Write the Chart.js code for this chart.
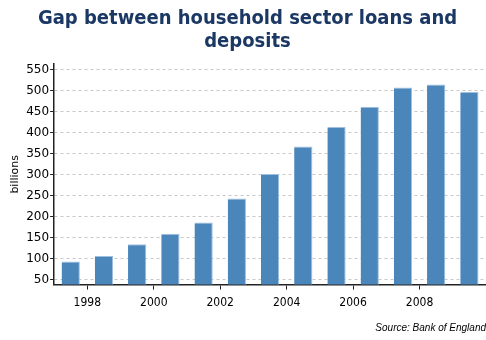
<!DOCTYPE html>
<html>
<head>
<meta charset="utf-8">
<script src="https://cdn.jsdelivr.net/npm/chart.js@4.4.1/dist/chart.umd.min.js"></script>
<style>
  html, body { margin: 0; padding: 0; background: #fff; }
  #wrap { width: 486px; height: 340px; }
</style>
</head>
<body>
<div id="wrap"><canvas id="chart"></canvas></div>
<script>
// --- Datos ---
const years = [1997, 1998, 1999, 2000, 2001, 2002, 2003, 2004, 2005, 2006, 2007, 2008, 2009];
const gap = [93, 106, 134, 159, 186, 243, 302, 367, 414, 462, 508, 515, 497];
const yTicks = [50, 100, 150, 200, 250, 300, 350, 400, 450, 500, 550];
const xTicks = [1998, 2000, 2002, 2004, 2006, 2008];

const titleLines = ["Gap between household sector loans and", "deposits"];
const sourceText = "Source: Bank of England";

// cada barra ocupa su año entero, la etiqueta cae en el borde
const points = years.map((y, i) => ({ x: y + 0.5, y: gap[i] }));

new Chart(document.getElementById("chart"), {
  type: "bar",
  data: {
    datasets: [{
      data: points,
      backgroundColor: "#4b86bb",
      borderColor: "#9fbfdf",
      borderWidth: { top: 1, right: 1, left: 0, bottom: 0 },
      borderSkipped: false,
      categoryPercentage: 1,
      barPercentage: 0.55,
    }],
  },
  options: {
    responsive: true,
    maintainAspectRatio: false,
    animation: false,
    layout: { padding: { left: 9, right: 0, top: 0, bottom: 0 } },
    plugins: {
      legend: { display: false },
      tooltip: { enabled: false },
      title: {
        display: true,
        text: titleLines,
        color: "#1b3763",
        font: { family: "DejaVu Sans Condensed", size: 20, weight: "bold", lineHeight: 1.15 },
        padding: { top: 7, bottom: 11 },
      },
      subtitle: {
        display: true,
        position: "bottom",
        align: "end",
        text: sourceText,
        color: "#000",
        font: { family: "Liberation Sans", size: 10, style: "italic" },
        padding: { top: 6, bottom: 6 },
      },
    },
    scales: {
      x: {
        type: "linear",
        offset: false,
        min: 1997,
        max: 2010,
        afterBuildTicks: s => { s.ticks = xTicks.map(v => ({ value: v })); },
        ticks: {
          callback: v => String(v),
          color: "#000",
          font: { family: "DejaVu Sans Condensed", size: 12 },
          padding: 6,
          maxRotation: 0,
        },
        grid: { offset: false, drawOnChartArea: false, drawTicks: true, tickLength: 5, tickColor: "#222", tickBorderDash: [] },
        border: { color: "#222", width: 1.5 },
      },
      y: {
        min: 38,
        max: 564,
        afterBuildTicks: s => { s.ticks = yTicks.map(v => ({ value: v })); },
        ticks: {
          color: "#000",
          font: { family: "DejaVu Sans", size: 12 },
          padding: 1,
        },
        grid: { color: "#c8c8c8", tickLength: 4, tickColor: "#222", tickBorderDash: [] },
        border: { color: "#222", width: 1.5, dash: [3, 3] },
        title: {
          display: true,
          text: "billions",
          color: "#000",
          font: { family: "DejaVu Sans", size: 11 },
          padding: { top: 0, bottom: 3 },
        },
      },
    },
  },
});
</script>
</body>
</html>
